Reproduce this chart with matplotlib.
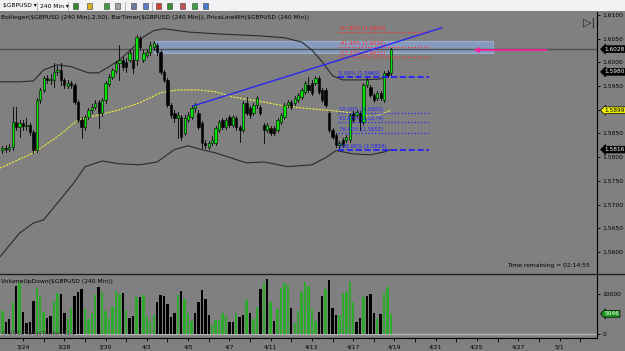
""" GBPUSD 240 min chart with Bollinger, Fibonacci levels and volume """

import numpy as np
import matplotlib.pyplot as plt
from matplotlib.patches import Rectangle
from matplotlib.lines import Line2D
import matplotlib.transforms as mtransforms

plt.rcParams['font.family'] = ['DejaVu Sans']

# ---- data (bar index 6 is the first visible 4h bar) ----
FIRST_BAR = 6
opens = [1.5816, 1.5820, 1.5818, 1.5822, 1.5875, 1.5864, 1.5872, 1.5866, 1.5868, 1.5853,
         1.5816, 1.5921, 1.5942, 1.5967, 1.5963, 1.5963, 1.5980, 1.5984, 1.5963, 1.5951,
         1.5957, 1.5953, 1.5917, 1.5879, 1.5864, 1.5885, 1.5900, 1.5906, 1.5917, 1.5894,
         1.5921, 1.5955, 1.5970, 1.5982, 1.5999, 1.6005, 1.6001, 1.6005, 1.6005, 1.6005,
         1.6052, 1.6005, 1.6016, 1.6022, 1.6033, 1.6037, 1.6022, 1.5980, 1.5963, 1.5910,
         1.5894, 1.5883, 1.5885, 1.5851, 1.5879, 1.5885, 1.5904, 1.5894, 1.5872, 1.5830,
         1.5822, 1.5830, 1.5830, 1.5858, 1.5879, 1.5864, 1.5885, 1.5868, 1.5883, 1.5864,
         1.5858, 1.5915, 1.5904, 1.5894, 1.5910, 1.5906, 1.5868, 1.5858, 1.5862, 1.5862,
         1.5858, 1.5875, 1.5885, 1.5910, 1.5917, 1.5915, 1.5921, 1.5927, 1.5938, 1.5953,
         1.5957, 1.5957, 1.5967, 1.5942, 1.5942, 1.5894, 1.5858, 1.5847, 1.5826, 1.5837,
         1.5837, 1.5837, 1.5894, 1.5889, 1.5894, 1.5875, 1.5953, 1.5948, 1.5932, 1.5925,
         1.5936, 1.5921, 1.5978, 1.5978]
closes = [1.5820, 1.5818, 1.5822, 1.5875, 1.5864, 1.5872, 1.5866, 1.5868, 1.5853, 1.5816,
          1.5921, 1.5942, 1.5967, 1.5963, 1.5965, 1.5980, 1.5984, 1.5963, 1.5953, 1.5957,
          1.5953, 1.5917, 1.5879, 1.5864, 1.5885, 1.5900, 1.5906, 1.5915, 1.5894, 1.5921,
          1.5957, 1.5970, 1.5984, 1.5999, 1.6005, 1.5991, 1.5991, 1.6020, 1.5989, 1.6054,
          1.6033, 1.6020, 1.6022, 1.6037, 1.6041, 1.6022, 1.5980, 1.5963, 1.5910, 1.5889,
          1.5883, 1.5889, 1.5843, 1.5883, 1.5889, 1.5904, 1.5910, 1.5864, 1.5830, 1.5826,
          1.5830, 1.5837, 1.5862, 1.5875, 1.5864, 1.5879, 1.5868, 1.5885, 1.5864, 1.5858,
          1.5915, 1.5894, 1.5889, 1.5910, 1.5925, 1.5894, 1.5858, 1.5868, 1.5851, 1.5851,
          1.5879, 1.5889, 1.5910, 1.5917, 1.5906, 1.5925, 1.5932, 1.5942, 1.5957, 1.5942,
          1.5936, 1.5967, 1.5938, 1.5921, 1.5910, 1.5858, 1.5843, 1.5826, 1.5830, 1.5826,
          1.5843, 1.5889, 1.5879, 1.5896, 1.5875, 1.5953, 1.5963, 1.5932, 1.5921, 1.5936,
          1.5925, 1.5978, 1.5974, 1.6028]
highs = [1.5824, 1.5826, 1.5828, 1.5906, 1.5906, 1.5879, 1.5879, 1.5883, 1.5872, 1.5858,
         1.5925, 1.5946, 1.5972, 1.5974, 1.5976, 1.5999, 1.5993, 1.5999, 1.5967, 1.5963,
         1.5961, 1.5957, 1.5921, 1.5885, 1.5889, 1.5904, 1.5913, 1.5921, 1.5921, 1.5925,
         1.5961, 1.5976, 1.5989, 1.6003, 1.6037, 1.6012, 1.6010, 1.6026, 1.6026, 1.6058,
         1.6056, 1.6026, 1.6029, 1.6043, 1.6045, 1.6041, 1.6026, 1.5984, 1.5967, 1.5915,
         1.5900, 1.5896, 1.5889, 1.5889, 1.5896, 1.5910, 1.5915, 1.5900, 1.5877, 1.5837,
         1.5834, 1.5845, 1.5866, 1.5879, 1.5883, 1.5883, 1.5889, 1.5889, 1.5887, 1.5868,
         1.5919, 1.5927, 1.5908, 1.5915, 1.5930, 1.5910, 1.5872, 1.5872, 1.5866, 1.5866,
         1.5883, 1.5894, 1.5915, 1.5921, 1.5921, 1.5930, 1.5936, 1.5946, 1.5961, 1.5970,
         1.5963, 1.5972, 1.5972, 1.5946, 1.5946, 1.5898, 1.5862, 1.5851, 1.5834, 1.5841,
         1.5847, 1.5894, 1.5898, 1.5900, 1.5898, 1.5957, 1.5967, 1.5953, 1.5936, 1.5940,
         1.5940, 1.5982, 1.5984, 1.6030]
lows = [1.5809, 1.5811, 1.5814, 1.5816, 1.5858, 1.5843, 1.5858, 1.5858, 1.5847, 1.5809,
        1.5811, 1.5915, 1.5938, 1.5957, 1.5955, 1.5948, 1.5974, 1.5953, 1.5946, 1.5946,
        1.5946, 1.5913, 1.5875, 1.5841, 1.5858, 1.5881, 1.5894, 1.5902, 1.5862, 1.5887,
        1.5915, 1.5951, 1.5965, 1.5978, 1.5963, 1.5984, 1.5980, 1.6001, 1.5978, 1.5995,
        1.6026, 1.6001, 1.6012, 1.6016, 1.6026, 1.6016, 1.5976, 1.5959, 1.5906, 1.5883,
        1.5875, 1.5841, 1.5837, 1.5847, 1.5875, 1.5881, 1.5896, 1.5860, 1.5820, 1.5820,
        1.5818, 1.5826, 1.5826, 1.5853, 1.5860, 1.5860, 1.5864, 1.5864, 1.5858, 1.5832,
        1.5853, 1.5889, 1.5883, 1.5889, 1.5904, 1.5889, 1.5830, 1.5853, 1.5847, 1.5847,
        1.5853, 1.5870, 1.5881, 1.5906, 1.5902, 1.5910, 1.5917, 1.5923, 1.5934, 1.5938,
        1.5932, 1.5953, 1.5934, 1.5917, 1.5906, 1.5853, 1.5839, 1.5822, 1.5820, 1.5822,
        1.5832, 1.5832, 1.5875, 1.5885, 1.5858, 1.5870, 1.5948, 1.5927, 1.5917, 1.5921,
        1.5921, 1.5917, 1.5970, 1.5972]
volumes = [5750, 3100, 3700, 7900, 12100, 12800, 5600, 2700, 2900, 8250,
           11400, 9600, 5600, 3900, 4600, 8250, 10200, 9900, 5200, 3900,
           6400, 9500, 10400, 11250, 6250, 3750, 5200, 9750, 11700, 10600,
           5750, 4100, 6800, 10800, 10000, 10200, 6000, 4100, 4500, 9300,
           9300, 9700, 4600, 3250, 4750, 7900, 9750, 9600, 7500, 4300,
           5300, 9750, 10750, 8750, 5200, 3250, 5200, 8100, 11000, 8700,
           4750, 2250, 3500, 3500, 5200, 4500, 2900, 3100, 5300, 4300,
           4750, 8500, 5300, 3700, 6800, 11250, 12700, 13700, 7900, 3250,
           6200, 11400, 12800, 12250, 6600, 2700, 5750, 10400, 12900, 12100,
           6200, 3250, 5600, 9500, 11250, 13500, 6400, 4750, 4750, 10300,
           10400, 12900, 7900, 2900, 4100, 9200, 9500, 9900, 5200, 3750,
           4900, 10200, 11700, 5046]
vol_up = "gbbgbgbbbb" "gggbbggbbg" "gbbbggggbg" "gggggbgbbg" "bggggbbbbb" \
         "bgbgggbbbb" "bgggggbbgb" "bgbggbgbgb" "ggggbggggg" "ggbbgbbbgg" \
         "gggbbgbbbg" "bggg"

# Bollinger (2.50) lines: bar index, price
upper_idx = [5.3, 11, 15, 18, 22, 26, 31, 34, 37, 40, 44, 47, 50, 53, 60, 69, 81, 88, 93, 96, 99, 102, 105, 110, 116, 119]
upper_val = [1.5959, 1.5959, 1.5961, 1.5984, 1.5995, 1.5991, 1.5978, 1.5978, 1.5991, 1.6005, 1.6031, 1.6054, 1.6067,
             1.6071, 1.6064, 1.6060, 1.6056, 1.6052, 1.6043, 1.6026, 1.6001, 1.5972, 1.5963, 1.5963, 1.5965, 1.5980]
lower_idx = [5.3, 11, 15, 18, 24, 27, 30, 35, 40, 46, 51, 56, 60, 64, 68, 77, 82, 89, 96, 100, 103, 108, 113, 117, 119]
lower_val = [1.5590, 1.5640, 1.5661, 1.5668, 1.5721, 1.5748, 1.5780, 1.5792, 1.5786, 1.5784, 1.5790, 1.5816, 1.5824,
             1.5816, 1.5809, 1.5788, 1.5790, 1.5780, 1.5784, 1.5799, 1.5814, 1.5807, 1.5805, 1.5811, 1.5816]
mid_idx = [5.3, 15, 22, 28, 34, 40, 46, 52, 57, 63, 68, 73, 78, 83, 88, 93, 99, 105, 110, 114, 119]
mid_val = [1.5777, 1.5809, 1.5843, 1.5879, 1.5889, 1.5900, 1.5915, 1.5936, 1.5942, 1.5942, 1.5938, 1.5927, 1.5921,
           1.5915, 1.5908, 1.5904, 1.5900, 1.5896, 1.5889, 1.5885, 1.5899]

fib_names = ["-61.80%", "-41.40%", "-27.20%", "0.00%", "50.00%", "61.80%", "76.40%", "100.00%"]
fib_prices = [1.6064, 1.6032, 1.6011, 1.5969, 1.5893, 1.5874, 1.5852, 1.5816]

trend_idx = [61.4, 133.8]
trend_val = [1.5908, 1.6073]
last_price = 1.6028

date_labels = ["3/24", "3/28", "3/30", "4/3", "4/5", "4/7", "4/11", "4/13",
               "4/17", "4/19", "4/21", "4/25", "4/27", "5/1"]
price_ticks = [1.5600, 1.5650, 1.5700, 1.5750, 1.5800, 1.5850, 1.5900,
               1.5950, 1.6000, 1.6050, 1.6100]

W, H = 625, 351
BG = '#808080'
UP_CANDLE = '#00E600'
UP_VOL = '#2EA82E'


def fx(px):
    return px / W


def fy(py):
    return 1 - py / H


fig = plt.figure(figsize=(W / 100, H / 100), dpi=100, facecolor=BG)

# ---- price panel ----
ax = fig.add_axes([0, fy(273), fx(597), fy(12) - fy(273)], facecolor=BG)
ax.set_xlim(5.3, 178.9)
ax.set_ylim(1.55557, 1.61063)
for s in ['top', 'left', 'bottom']:
    ax.spines[s].set_visible(False)
ax.spines['right'].set_color('black')
ax.spines['right'].set_linewidth(0.8)
ax.yaxis.tick_right()
ax.set_yticks(price_ticks)
# the 1.5900 label sits under the yellow Bollinger badge
ax.set_yticklabels(["" if abs(p - 1.59) < 1e-6 else "%.4f" % p for p in price_ticks])
ax.tick_params(axis='y', length=2.5, width=0.6, labelsize=4.3, pad=1.5, colors='black')
ax.set_xticks([])

# highlight box and price line
ax.add_patch(Rectangle((50.1, 1.6020), 148.6 - 50.1, 1.6045 - 1.6020,
                       facecolor='#8CB2EC', edgecolor='#A8CCF8', alpha=0.55, lw=0.8, zorder=1))
ax.axhline(last_price, color='#505050', lw=1.0, zorder=1)

# bollinger
ax.plot(upper_idx, upper_val, color='#2a2a2a', lw=0.8, zorder=2)
ax.plot(lower_idx, lower_val, color='#2a2a2a', lw=0.8, zorder=2)
ax.plot(mid_idx, mid_val, color='#EDED3A', lw=0.8, ls=(0, (2, 1)), zorder=2)

# candles
idx = np.arange(FIRST_BAR, FIRST_BAR + len(closes))
for i, o, h, l, c in zip(idx, opens, highs, lows, closes):
    ax.plot([i, i], [l, h], color='black', lw=0.6, zorder=3)
    bottom = min(o, c)
    height = max(abs(c - o), 0.00012)
    face = UP_CANDLE if c >= o else 'black'
    ax.add_patch(Rectangle((i - 0.34, bottom), 0.68, height, facecolor=face,
                           edgecolor='black', lw=0.4, zorder=4))

# fibonacci
for name, p in zip(fib_names, fib_prices):
    neg = name.startswith('-')
    if neg:
        col, ls, lw = '#FF2A2A', ':', 0.9
    elif name in ("0.00%", "100.00%"):
        col, ls, lw = '#1A1AFF', '--', 1.2
    else:
        col, ls, lw = '#2A2AFF', ':', 0.9
    ax.plot([103.6, 130.0], [p, p], color=col, ls=ls, lw=lw, zorder=5)
    ax.text(104.0, p + 0.0002, "%s (%.4f)" % (name, p), color=col,
            fontsize=3.8, va='bottom', ha='left', zorder=5)

# trend line
ax.plot(trend_idx, trend_val, color='#2828F0', lw=1.0, zorder=5)

# arrow
ax.annotate('', xy=(142.2, 1.6026), xytext=(165.1, 1.6026),
            arrowprops=dict(arrowstyle='-|>', color='#FF1E9C', lw=1.2, mutation_scale=7),
            zorder=6)

# axis badges
trans = mtransforms.blended_transform_factory(ax.transAxes, ax.transData)
badges = [(last_price, 'black', 'white'), (upper_val[-1], 'black', 'white'),
          (mid_val[-1], '#F0F000', 'black'), (lower_val[-1], 'black', 'white')]
for p, fc, tc in badges:
    ax.text(1.012, p, "%.4f" % p, transform=trans, fontsize=4.2, color=tc,
            ha='left', va='center', clip_on=False, zorder=7,
            bbox=dict(boxstyle='larrow,pad=0.15', fc=fc, ec='black', lw=0.5))

# ---- volume panel ----
vax = fig.add_axes([0, fy(338), fx(597), fy(274) - fy(338)], facecolor=BG)
vax.set_xlim(5.3, 178.9)
vax.set_ylim(-1000, 15000)
vax.spines['top'].set_visible(False)
vax.spines['left'].set_visible(False)
for s in ['right', 'bottom']:
    vax.spines[s].set_color('black')
    vax.spines[s].set_linewidth(0.8)
vax.axhline(0, color='#B4B4B4', lw=1.0, zorder=1)
vcols = [UP_VOL if f == 'g' else 'black' for f in vol_up]
vax.bar(idx, volumes, width=0.7, color=vcols, zorder=2)
vax.yaxis.tick_right()
vax.set_yticks([0, 10000])
vax.set_yticklabels(["0", "10000"])
vax.tick_params(axis='y', length=2.5, width=0.6, labelsize=4.3, pad=1.5)
vax.set_xticks(np.arange(12, 12 + 12 * len(date_labels), 12))
vax.set_xticklabels(date_labels)
vax.set_xticks(np.arange(18, 180, 12), minor=True)
vax.tick_params(axis='x', which='major', length=2, width=0.6, labelsize=4.3, pad=3)
vax.tick_params(axis='x', which='minor', length=3, width=0.6)
vtrans = mtransforms.blended_transform_factory(vax.transAxes, vax.transData)
vax.text(1.012, volumes[-1], str(volumes[-1]), transform=vtrans, fontsize=4.2, color='white',
         ha='left', va='center', clip_on=False,
         bbox=dict(boxstyle='larrow,pad=0.15', fc='#1E9A1E', ec='black', lw=0.5))

# panel separator
fig.add_artist(Line2D([0, 1], [fy(273.5), fy(273.5)], color='#202020', lw=1.0))

# ---- texts ----
fig.text(fx(1), fy(17), "Bollinger($GBPUSD (240 Min),2.50), BarTimer($GBPUSD (240 Min)), "
         "PriceLineWH($GBPUSD (240 Min))", fontsize=4.3, va='center', color='black')
fig.text(fx(1), fy(282), "VolumeUpDown($GBPUSD (240 Min))", fontsize=4.3, va='center', color='black')
fig.text(fx(1), fy(333), "\u00a9 2012 NinjaTrader, LLC", fontsize=4.3, va='center', color='#3a3a3a')
fig.text(fx(590), fy(266), "Time remaining = 02:14:55", fontsize=4.3, va='center', ha='right')
fig.text(fx(583), fy(23), "\u25b7|", fontsize=8, va='center', ha='left', color='#202020')

# ---- toolbar ----
tb = fig.add_axes([0, fy(11), 1, fy(0) - fy(11)], facecolor='#F2F2F4')
tb.set_xlim(0, W)
tb.set_ylim(11, 0)
tb.axis('off')
tb.add_patch(Rectangle((0, 0), W, 11, facecolor='#F2F2F4', edgecolor='none'))
tb.text(3, 6, "$GBPUSD \u25be", fontsize=4.3, va='center')
tb.text(40, 6, "240 Min \u25be", fontsize=4.3, va='center')
icons = [(73, '#2E8B2E'), (87, '#D8B020'), (104, '#3C9A3C'), (115, '#A0A0A0'),
         (131, '#6A7A9A'), (143, '#5A7AC8'), (156, '#D04030'), (167, '#309030'),
         (180, '#C05050'), (192, '#40A040'), (203, '#4A78D0')]
for x0, col in icons:
    tb.add_patch(Rectangle((x0, 2.5), 5, 6, facecolor=col, edgecolor='#404040', lw=0.4))
for x0 in [37, 68, 125, 152]:
    tb.plot([x0, x0], [1.5, 9.5], color='#B0B0B0', lw=0.6)

fig.savefig('out.png', dpi=100, facecolor=BG)
